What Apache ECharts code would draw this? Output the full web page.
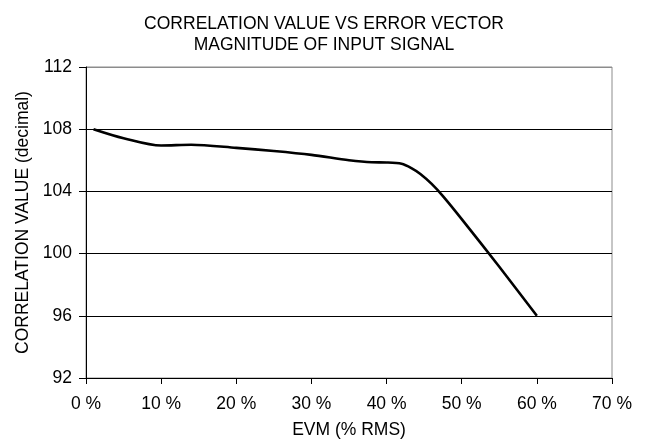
<!DOCTYPE html>
<html>
<head>
<meta charset="utf-8">
<script src="https://cdn.jsdelivr.net/npm/echarts@6/dist/echarts.min.js"></script>
<style>
html,body{margin:0;padding:0;background:#fff;}
#chart{width:648px;height:442px;}
</style>
</head>
<body>
<div id="chart"></div>
<script>
const titleLines = ['CORRELATION VALUE VS ERROR VECTOR', 'MAGNITUDE OF INPUT SIGNAL'];
const xAxisName = 'EVM (% RMS)';
const yAxisName = 'CORRELATION VALUE (decimal)';
const evmPercent = [1, 5, 10, 14, 20, 25, 30, 35, 38, 40, 42, 43.3, 44.5, 46, 47.5, 50, 55, 60];
const correlation = [108, 107.42, 106.95, 107.0, 106.8, 106.6, 106.35, 106.0, 105.87, 105.86, 105.78, 105.5, 105.12, 104.48, 103.7, 102.22, 99.15, 96];
const xTicks = {min: 0, max: 70, interval: 10};
const yTicks = {min: 92, max: 112, interval: 4};

const font = 'Liberation Sans, Arial, sans-serif';
const chart = echarts.init(document.getElementById('chart'), null, {renderer: 'canvas'});
chart.setOption({
  animation: false,
  backgroundColor: '#fff',
  title: {
    text: titleLines.join('\n'),
    left: 'center',
    top: 9,
    textStyle: {fontFamily: font, fontSize: 17.5, fontWeight: 'normal', color: '#000', lineHeight: 21}
  },
  grid: {
    left: 86, right: 36, top: 67, bottom: 64,
    outerBoundsMode: 'none',
    containLabel: false,
    show: true, borderColor: '#8c8c8c', borderWidth: 1, backgroundColor: 'transparent'
  },
  xAxis: {
    type: 'value',
    min: xTicks.min, max: xTicks.max, interval: xTicks.interval,
    name: xAxisName, nameLocation: 'middle', nameGap: 43,
    nameTextStyle: {fontFamily: font, fontSize: 17.5, color: '#000'},
    axisLine: {show: true, lineStyle: {color: '#000', width: 1}},
    axisTick: {show: true, length: 6, inside: false, lineStyle: {color: '#000'}},
    axisLabel: {fontFamily: font, fontSize: 17.5, color: '#000', margin: 17, formatter: '{value} %'},
    splitLine: {show: false}
  },
  yAxis: {
    type: 'value',
    min: yTicks.min, max: yTicks.max, interval: yTicks.interval,
    name: yAxisName, nameLocation: 'middle', nameGap: 51,
    nameTextStyle: {fontFamily: font, fontSize: 17.5, color: '#000'},
    axisLine: {show: true, lineStyle: {color: '#000', width: 1}},
    axisTick: {show: true, length: 7, lineStyle: {color: '#000'}},
    axisLabel: {fontFamily: font, fontSize: 17.5, color: '#000', margin: 14},
    splitLine: {show: true, lineStyle: {color: ['#000', '#000', '#000', '#000', '#000', '#8c8c8c'], width: 1}}
  },
  series: [{
    type: 'line',
    data: evmPercent.map((x, i) => [x, correlation[i]]),
    smooth: 0.3,
    showSymbol: false,
    lineStyle: {color: '#000', width: 2.6},
    itemStyle: {color: '#000'}
  }]
});
</script>
</body>
</html>
